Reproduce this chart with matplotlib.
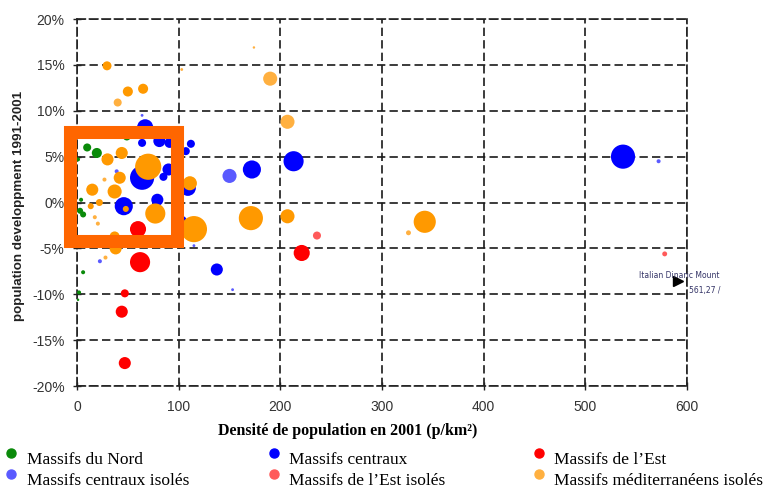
import numpy as np
import matplotlib
matplotlib.use("Agg")
import matplotlib.pyplot as plt
from matplotlib.lines import Line2D
from matplotlib.patches import Rectangle
from matplotlib.ticker import FuncFormatter

# density (p/km2), growth 1991-2001 (%), bubble weight (relative population)
nord_x = [10, 19.5, 49, 1, 4, 3, 6, 6, 2, 1]
nord_y = [6.0, 5.4, 7.2, 4.7, 0.3, -0.9, -1.3, -7.6, -9.8, -10.6]
nord_w = [16, 25, 16, 4, 4, 9, 9, 4, 4, 1.5]

centr_x = [67, 81, 64, 91, 112, 107, 64, 90, 85, 109, 79, 46, 103, 172, 213, 137.5, 537]
centr_y = [8.2, 6.7, 6.5, 6.5, 6.4, 5.6, 2.7, 3.6, 2.8, 1.6, 0.3, -0.4, -2.0, 3.6, 4.5, -7.3, 5.0]
centr_w = [64, 36, 16, 25, 16, 16, 144, 36, 16, 64, 36, 81, 25, 81, 100, 36, 144]

centr_iso_x = [150, 153, 22.5, 572, 115, 64, 39]
centr_iso_y = [2.9, -9.5, -6.4, 4.5, -4.7, 9.5, 3.4]
centr_iso_w = [49, 2, 4, 4, 2, 2, 4]

est_x = [60, 62, 47, 44, 47, 221]
est_y = [-2.9, -6.5, -9.9, -11.9, -17.5, -5.5]
est_w = [64, 100, 16, 36, 36, 64]

est_iso_x = [236, 578]
est_iso_y = [-3.6, -5.6]
est_iso_w = [16, 6]

medit_x = [29.5, 50, 65, 30, 44, 70, 42, 15, 37, 111, 22, 13.5, 48, 77, 115, 171, 207, 37, 38, 342]
medit_y = [14.9, 12.1, 12.4, 4.7, 5.4, 3.9, 2.7, 1.4, 1.2, 2.1, 0.0, -0.4, -0.7, -1.2, -2.9, -1.7, -1.5, -3.7, -5.0, -2.1]
medit_w = [20, 25, 25, 36, 36, 169, 36, 36, 49, 49, 12, 9, 9, 100, 169, 144, 49, 25, 36, 121]

medit_iso_x = [40, 190, 207, 103, 174, 326, 28, 27, 17.5, 20.5]
medit_iso_y = [10.9, 13.5, 8.8, 14.5, 16.9, -3.3, -6.0, 2.5, -1.6, -2.3]
medit_iso_w = [16, 49, 49, 2, 1.5, 6, 4, 4, 4, 4]

series = [
    (nord_x, nord_y, nord_w, "#0a8a0a"),
    (centr_x, centr_y, centr_w, "#0000ff"),
    (centr_iso_x, centr_iso_y, centr_iso_w, "#5a5aff"),
    (est_x, est_y, est_w, "#ff0000"),
    (est_iso_x, est_iso_y, est_iso_w, "#ff5a5a"),
    (medit_iso_x, medit_iso_y, medit_iso_w, "#ffb040"),
    (medit_x, medit_y, medit_w, "#ff9900"),
]

legend_labels = ["Massifs du Nord", "Massifs centraux", "Massifs de l\u2019Est",
                 "Massifs centraux isolés", "Massifs de l\u2019Est isolés",
                 "Massifs méditerranéens isolés"]
legend_colors = ["#0a8a0a", "#0000ff", "#ff0000", "#5a5aff", "#ff5a5a", "#ffb040"]

fig = plt.figure(figsize=(7.64, 4.88), dpi=100)
ax = fig.add_axes([0.1008, 0.209, 0.7985, 0.752])

dash = (0, (5, 2.5))
for v in range(0, 601, 100):
    ax.axvline(v, color="#1a1a1a", lw=1.2, ls=dash, zorder=1)
for v in range(-20, 21, 5):
    ax.axhline(v, color="#1a1a1a", lw=1.2, ls=dash, zorder=1)

for xs, ys, ws, c in series:
    ax.scatter(xs, ys, s=np.array(ws) * 2.1, color=c, edgecolors="none", zorder=3)

ax.set_xlim(0, 600)
ax.set_ylim(-20, 20)
ax.set_xticks(range(0, 601, 100))
ax.set_yticks(range(-20, 21, 5))
ax.yaxis.set_major_formatter(FuncFormatter(lambda v, p: f"{int(v)}%"))
ax.tick_params(direction="inout", length=6, width=1, color="#222222",
               labelsize=10, labelcolor="#333333")
ax.tick_params(axis="x", pad=7)
ax.tick_params(axis="y", pad=6)
for lab in ax.get_xticklabels() + ax.get_yticklabels():
    lab.set_fontfamily("Liberation Sans")
for sp in ax.spines.values():
    sp.set_linestyle(dash)
    sp.set_linewidth(1.2)
    sp.set_color("#222222")

ax.set_xlabel("Densité de population en 2001 (p/km\u00b2)", fontfamily="Liberation Serif",
              fontweight="bold", fontsize=11.5)
ax.xaxis.set_label_coords(0.444, -0.10)
ax.set_ylabel("population developpment 1991-2001", fontfamily="Liberation Sans",
              fontweight="bold", fontsize=9.6, color="#222222")
ax.yaxis.set_label_coords(-0.086, 0.49)

# outlier annotation
ax.plot([591], [-8.6], marker=">", color="black", markersize=7, zorder=4, clip_on=False)
ax.text(592, -7.95, "Italian Dinaric Mount", fontsize=5.5, ha="center", va="center",
        color="#333366", zorder=5, clip_on=False)
ax.text(617, -9.6, "561,27 /", fontsize=5.5, ha="center", va="center",
        color="#333366", zorder=5, clip_on=False)

# orange highlight box
ax.add_patch(Rectangle((-6.9, -4.19), 105.7, 11.87, fill=False, edgecolor="#ff6600",
                       lw=9.4, zorder=6, clip_on=False))

# legend, two rows of three
mark_x = [11 / 764, 274 / 764, 539 / 764]
text_x = [27 / 764, 289 / 764, 554 / 764]
row_y = [1 - 460 / 488, 1 - 481 / 488]
for i, (lab, c) in enumerate(zip(legend_labels, legend_colors)):
    cy = row_y[i // 3]
    fig.add_artist(Line2D([mark_x[i % 3]], [cy + 0.014], marker="o", color=c, markersize=6.5,
                          ls="none", transform=fig.transFigure))
    fig.text(text_x[i % 3], cy, lab, fontsize=12.5, fontfamily="Liberation Serif",
             va="center", ha="left")

fig.savefig("out.png", dpi=100)
